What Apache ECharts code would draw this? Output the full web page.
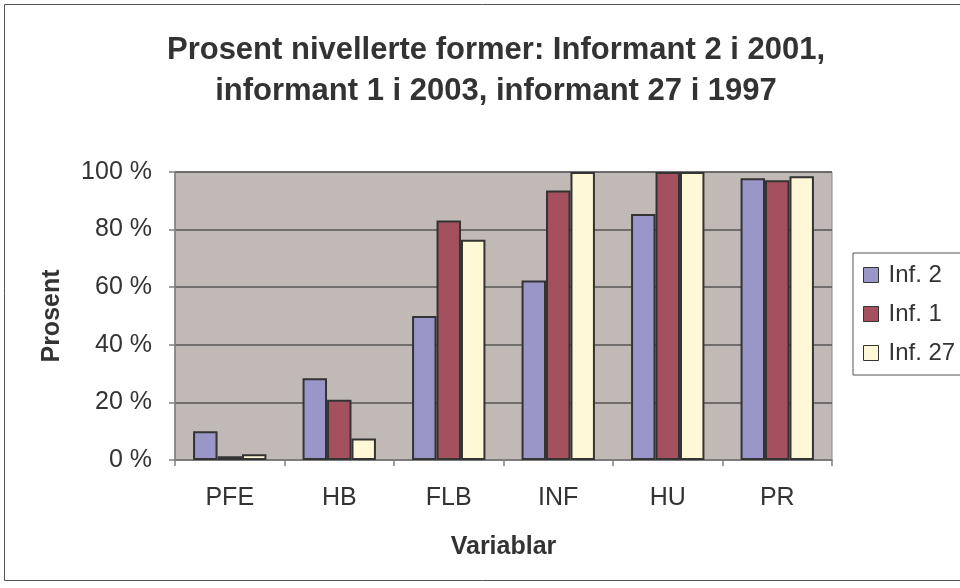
<!DOCTYPE html>
<html>
<head>
<meta charset="utf-8">
<script src="https://cdn.jsdelivr.net/npm/echarts@6/dist/echarts.min.js"></script>
<style>
  html, body { margin: 0; padding: 0; background: #fff; }
  #main { width: 960px; height: 588px; }
</style>
</head>
<body>
<div id="main"></div>
<script>
const categories = ['PFE', 'HB', 'FLB', 'INF', 'HU', 'PR']
const seriesNames = ['Inf. 2', 'Inf. 1', 'Inf. 27']
const inf2 = [10, 28.4, 50, 62.3, 85.4, 97.8]
const inf1 = [1.3, 20.9, 83.2, 93.6, 100, 97.1]
const inf27 = [2, 7.5, 76.5, 100, 100, 98.5]
const colors = ['#9b96c8', '#a5505f', '#fff8d6']

const font = 'Liberation Sans, Arial, sans-serif'
const chart = echarts.init(document.getElementById('main'))

function barSeries (name, data, color) {
  return {
    name: name,
    type: 'bar',
    data: data,
    barGap: '0%',
    barCategoryGap: '33%',
    itemStyle: { color: color, borderColor: '#333', borderWidth: 2 }
  }
}

const option = {
  animation: false,
  textStyle: { fontFamily: font },
  title: {
    text: 'Prosent nivellerte former: Informant 2 i 2001,\ninformant 1 i 2003, informant 27 i 1997',
    left: 491,
    textAlign: 'center',
    top: 25,
    textStyle: { fontFamily: font, fontSize: 31, fontWeight: 'bold', color: '#333', lineHeight: 41 }
  },
  graphic: [{
    type: 'rect',
    shape: { x: 4.5, y: 4.5, width: 1000, height: 576 },
    style: { fill: 'none', stroke: '#555', lineWidth: 1 },
    silent: true,
    z: -10
  }],
  legend: {
    orient: 'vertical',
    left: 853,
    top: 253,
    padding: [10, 20, 10, 10],
    icon: 'rect',
    itemWidth: 15,
    itemHeight: 15,
    itemGap: 15,
    borderColor: '#555',
    borderWidth: 1,
    backgroundColor: '#fff',
    itemStyle: { borderColor: '#333', borderWidth: 1 },
    textStyle: { fontFamily: font, fontSize: 24, color: '#333', padding: [0, 0, 0, 5] },
    data: seriesNames
  },
  grid: {
    left: 175,
    right: 128,
    top: 172,
    bottom: 128,
    show: true,
    backgroundColor: '#c1b9b6',
    borderColor: '#8a8a8a',
    borderWidth: 1
  },
  xAxis: {
    type: 'category',
    data: categories,
    name: 'Variablar',
    nameLocation: 'middle',
    nameGap: 75,
    nameTextStyle: { fontFamily: font, fontSize: 25, fontWeight: 'bold', color: '#333' },
    axisLine: { lineStyle: { color: '#808080', width: 1.5 } },
    axisTick: { show: true, length: 6, lineStyle: { color: '#808080', width: 1.5 } },
    axisLabel: { fontFamily: font, fontSize: 25, color: '#333', margin: 26 }
  },
  yAxis: {
    type: 'value',
    min: 0,
    max: 100,
    interval: 20,
    name: 'Prosent',
    nameLocation: 'middle',
    nameGap: 110,
    nameRotate: 90,
    nameTextStyle: { fontFamily: font, fontSize: 25, fontWeight: 'bold', color: '#333' },
    axisLine: { show: true, lineStyle: { color: '#808080', width: 1.5 } },
    axisTick: { show: true, length: 6, lineStyle: { color: '#808080', width: 1.5 } },
    axisLabel: { fontFamily: font, fontSize: 25, color: '#333', margin: 23, formatter: '{value} %' },
    splitLine: { lineStyle: { color: '#555', width: 1.5 } }
  },
  series: [
    barSeries(seriesNames[0], inf2, colors[0]),
    barSeries(seriesNames[1], inf1, colors[1]),
    barSeries(seriesNames[2], inf27, colors[2])
  ]
}

chart.setOption(option)
</script>
</body>
</html>
